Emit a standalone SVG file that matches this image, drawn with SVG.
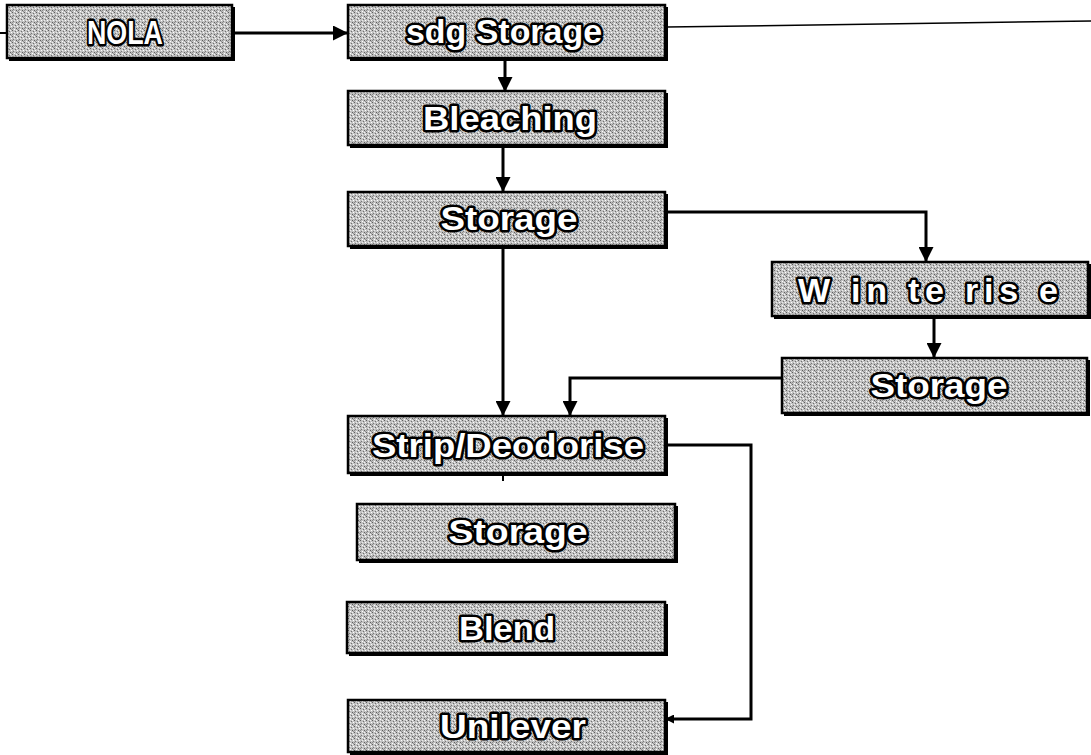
<svg xmlns="http://www.w3.org/2000/svg" width="1091" height="755" viewBox="0 0 1091 755">
<defs>
<pattern id="stip" width="6" height="6" patternUnits="userSpaceOnUse">
<rect width="6" height="6" fill="#c2c2c2"/>
<rect x="0" y="0" width="1" height="1" fill="#5e5e5e"/>
<rect x="3" y="1" width="1" height="1" fill="#707070"/>
<rect x="1" y="3" width="1" height="1" fill="#777"/>
<rect x="4" y="4" width="1" height="1" fill="#5e5e5e"/>
<rect x="2" y="5" width="1" height="1" fill="#ffffff"/>
<rect x="5" y="2" width="1" height="1" fill="#ffffff"/>
<rect x="2" y="2" width="1" height="1" fill="#ececec"/>
<rect x="5" y="5" width="1" height="1" fill="#929292"/>
<rect x="4" y="0" width="1" height="1" fill="#f4f4f4"/>
<rect x="0" y="4" width="1" height="1" fill="#8a8a8a"/>
</pattern>
<marker id="ah" viewBox="0 0 10 10" refX="10" refY="5" markerWidth="5" markerHeight="5" orient="auto" markerUnits="strokeWidth">
<path d="M0,0 L10,5 L0,10 Z" fill="#000"/>
</marker>
<marker id="ahs" viewBox="0 0 10 10" refX="10" refY="5" markerWidth="3" markerHeight="3" orient="auto" markerUnits="strokeWidth">
<path d="M0,0 L10,5 L0,10 Z" fill="#000"/>
</marker>
</defs>
<style>
.sh{fill:#000}
.bx{fill:url(#stip);stroke:#000;stroke-width:2.5}
.lb{font-family:"Liberation Sans",Arial,sans-serif;font-weight:bold;font-size:34px;fill:#fff;stroke:#000;stroke-width:5;paint-order:stroke;stroke-linejoin:round;text-anchor:middle}
.c{fill:none;stroke:#000;stroke-width:3}
</style>
<rect width="1091" height="755" fill="#fff"/>
<g id="connectors">
<path fill="none" stroke="#000" stroke-width="2" d="M0,33 L8,33"/>
<path class="c" d="M232,33 L348,33" marker-end="url(#ah)"/>
<path fill="none" stroke="#000" stroke-width="1.5" d="M667,27 L1091,21"/>
<path class="c" d="M505,58 L505,92" marker-end="url(#ah)"/>
<path class="c" d="M503,145 L503,192" marker-end="url(#ah)"/>
<path class="c" d="M667,212 L926,212 L926,262" marker-end="url(#ah)"/>
<path class="c" d="M503,247 L503,416" marker-end="url(#ah)"/>
<path class="c" d="M934,317 L934,358" marker-end="url(#ah)"/>
<path class="c" d="M782,378 L570,378 L570,416" marker-end="url(#ah)"/>
<path class="c" d="M667,445 L751,445 L751,719 L665,719" marker-end="url(#ahs)"/>
<path fill="none" stroke="#000" stroke-width="2" d="M503,474 L503,481"/>
</g>
<g id="nola">
<rect class="sh" x="9" y="7" width="226" height="54"/>
<rect class="bx" x="7" y="5" width="225" height="53"/>
<text class="lb" x="125" y="44" textLength="76" lengthAdjust="spacingAndGlyphs">NOLA</text>
</g>
<g id="sdg-storage">
<rect class="sh" x="350" y="7" width="318" height="54"/>
<rect class="bx" x="348" y="5" width="317" height="53"/>
<text class="lb" x="504" y="43" textLength="196" lengthAdjust="spacingAndGlyphs">sdg Storage</text>
</g>
<g id="bleaching">
<rect class="sh" x="350" y="93" width="318" height="55"/>
<rect class="bx" x="348" y="91" width="317" height="54"/>
<text class="lb" x="510" y="130" textLength="174" lengthAdjust="spacingAndGlyphs">Bleaching</text>
</g>
<g id="storage1">
<rect class="sh" x="350" y="194" width="318" height="55"/>
<rect class="bx" x="348" y="192" width="317" height="54"/>
<text class="lb" x="509" y="230" textLength="137" lengthAdjust="spacingAndGlyphs">Storage</text>
</g>
<g id="winterise">
<rect class="sh" x="774" y="264" width="317" height="55"/>
<rect class="bx" x="772" y="262" width="316" height="54"/>
<text class="lb" x="928" y="302" textLength="260" lengthAdjust="spacing">W in te ris e</text>
</g>
<g id="storage2">
<rect class="sh" x="784" y="360" width="306" height="56"/>
<rect class="bx" x="782" y="358" width="305" height="55"/>
<text class="lb" x="939" y="397" textLength="137" lengthAdjust="spacingAndGlyphs">Storage</text>
</g>
<g id="strip">
<rect class="sh" x="350" y="418" width="318" height="58"/>
<rect class="bx" x="348" y="416" width="317" height="57"/>
<text class="lb" x="508" y="457" textLength="272" lengthAdjust="spacingAndGlyphs">Strip/Deodorise</text>
</g>
<g id="storage3">
<rect class="sh" x="359" y="506" width="319" height="57"/>
<rect class="bx" x="357" y="504" width="318" height="56"/>
<text class="lb" x="518" y="543" textLength="139" lengthAdjust="spacingAndGlyphs">Storage</text>
</g>
<g id="blend">
<rect class="sh" x="349" y="604" width="319" height="52"/>
<rect class="bx" x="347" y="602" width="318" height="51"/>
<text class="lb" x="507" y="640" textLength="96" lengthAdjust="spacingAndGlyphs">Blend</text>
</g>
<g id="unilever">
<rect class="sh" x="350" y="702" width="318" height="53"/>
<rect class="bx" x="348" y="700" width="317" height="52"/>
<text class="lb" x="513" y="738" textLength="146" lengthAdjust="spacingAndGlyphs">Unilever</text>
</g>
</svg>
